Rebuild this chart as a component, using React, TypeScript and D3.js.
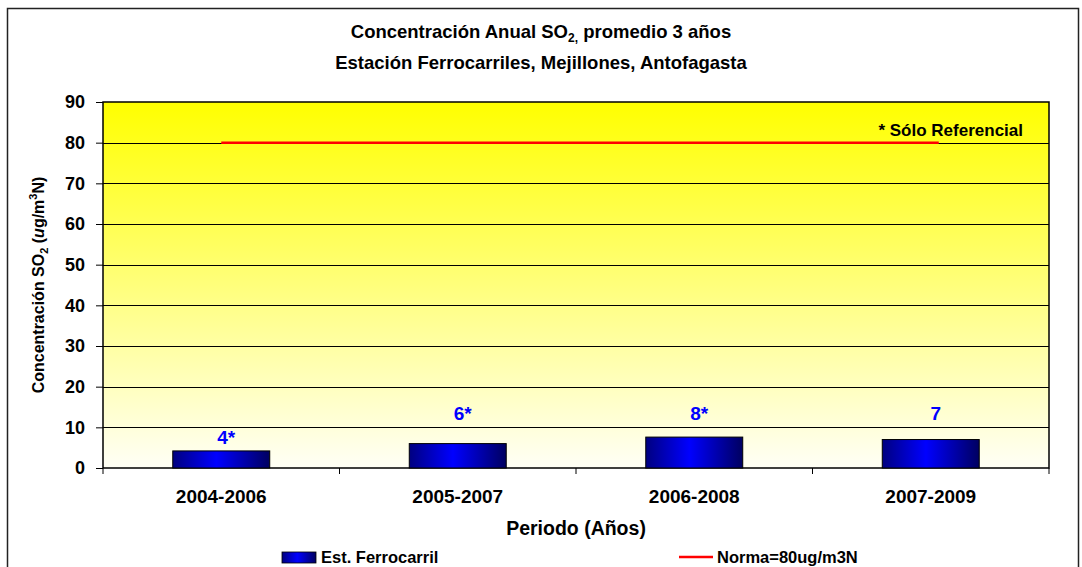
import React, { useEffect, useRef } from "react";
import * as d3 from "d3";

const periods = ["2004-2006", "2005-2007", "2006-2008", "2007-2009"];
const values = [4.2, 6.0, 7.6, 7.0];
const valueLabels = ["4*", "6*", "8*", "7"];
// where the label sits, in data units (as Excel placed them)
const labelLevels = [7.6, 13.5, 13.5, 13.5];
const norma = 80;
const yTicks = [0, 10, 20, 30, 40, 50, 60, 70, 80, 90];

const W = 1082;
const H = 567;
const margin = { top: 102, right: 33, bottom: 99, left: 103 };
const font = "'Liberation Sans', Arial, sans-serif";

const App = () => {
  const svgRef = useRef<SVGSVGElement>(null);

  useEffect(() => {
    const root = d3.select(svgRef.current);
    root.selectAll("*").remove();
    const width = W - margin.left - margin.right;
    const height = H - margin.top - margin.bottom;

    const defs = root.append("defs");
    const bg = defs
      .append("linearGradient")
      .attr("id", "bgGrad")
      .attr("x1", 0)
      .attr("y1", 0)
      .attr("x2", 0)
      .attr("y2", 1);
    bg.append("stop").attr("offset", "0%").attr("stop-color", "#ffff00");
    bg.append("stop").attr("offset", "100%").attr("stop-color", "#fffff6");

    const barGrad = defs
      .append("linearGradient")
      .attr("id", "barGrad")
      .attr("x1", 0)
      .attr("y1", 0)
      .attr("x2", 1)
      .attr("y2", 0);
    barGrad.append("stop").attr("offset", "0%").attr("stop-color", "#000080");
    barGrad.append("stop").attr("offset", "45%").attr("stop-color", "#0000ff");
    barGrad.append("stop").attr("offset", "100%").attr("stop-color", "#000060");

    // outer frame
    root
      .append("rect")
      .attr("x", 7.5)
      .attr("y", 8.5)
      .attr("width", 1071)
      .attr("height", 580)
      .attr("fill", "#fff")
      .attr("stroke", "#222")
      .attr("stroke-width", 1.5);

    const svg = root
      .append("g")
      .attr("transform", `translate(${margin.left},${margin.top})`);

    const x = d3.scaleBand().domain(periods).range([0, width]).paddingInner(0.59).paddingOuter(0.295);
    const xc = d3.scaleBand().domain(periods).range([0, width]);
    const y = d3.scaleLinear().domain([0, 90]).range([height, 0]);

    svg
      .append("rect")
      .attr("width", width)
      .attr("height", height)
      .attr("fill", "url(#bgGrad)");

    // gridlines
    svg
      .selectAll(".grid")
      .data(yTicks.filter((d) => d > 0 && d < 90))
      .enter()
      .append("line")
      .attr("x1", 0)
      .attr("x2", width)
      .attr("y1", (d) => Math.round(y(d)) + 0.5)
      .attr("y2", (d) => Math.round(y(d)) + 0.5)
      .attr("stroke", "#000")
      .attr("stroke-width", 1);

    svg
      .append("rect")
      .attr("width", width)
      .attr("height", height)
      .attr("fill", "none")
      .attr("stroke", "#000")
      .attr("stroke-width", 1.5);

    // norma line
    svg
      .append("line")
      .attr("x1", xc(periods[0])! + xc.bandwidth() / 2)
      .attr("x2", xc(periods[periods.length - 1])! + xc.bandwidth() / 2 + 8)
      .attr("y1", y(norma))
      .attr("y2", y(norma))
      .attr("stroke", "#ff0000")
      .attr("stroke-width", 2.5);

    svg
      .append("text")
      .attr("x", width - 26)
      .attr("y", y(norma) - 7)
      .attr("text-anchor", "end")
      .attr("font-family", font)
      .attr("font-weight", "bold")
      .attr("font-size", 17)
      .text("* Sólo Referencial");

    // bars
    svg
      .selectAll(".bar")
      .data(values)
      .enter()
      .append("rect")
      .attr("x", (d, i) => x(periods[i])!)
      .attr("y", (d) => y(d))
      .attr("width", x.bandwidth())
      .attr("height", (d) => y(0) - y(d))
      .attr("fill", "url(#barGrad)")
      .attr("stroke", "#000")
      .attr("stroke-width", 1);

    svg
      .selectAll(".lbl")
      .data(valueLabels)
      .enter()
      .append("text")
      .attr("x", (d, i) => x(periods[i])! + x.bandwidth() / 2 + 5)
      .attr("y", (d, i) => y(labelLevels[i]) + 7)
      .attr("text-anchor", "middle")
      .attr("font-family", font)
      .attr("font-weight", "bold")
      .attr("font-size", 19)
      .attr("fill", "#0000ff")
      .text((d) => d);

    // y axis
    const yAxis = svg
      .append("g")
      .call(d3.axisLeft(y).tickValues(yTicks).tickSize(7).tickPadding(11));
    yAxis.select(".domain").remove();
    yAxis.selectAll("line").attr("stroke", "#000");
    yAxis
      .selectAll("text")
      .attr("font-family", font)
      .attr("font-weight", "bold")
      .attr("font-size", 18)
      .attr("fill", "#000");

    // x axis
    const xAxis = svg
      .append("g")
      .attr("transform", `translate(0,${height})`)
      .call(d3.axisBottom(xc).tickSize(0).tickPadding(22));
    xAxis.select(".domain").remove();
    xAxis
      .selectAll("text")
      .attr("font-family", font)
      .attr("font-weight", "bold")
      .attr("font-size", 19)
      .attr("fill", "#000");
    svg
      .selectAll(".xtick")
      .data(d3.range(periods.length + 1))
      .enter()
      .append("line")
      .attr("x1", (i) => i * xc.step())
      .attr("x2", (i) => i * xc.step())
      .attr("y1", height)
      .attr("y2", height + 6)
      .attr("stroke", "#000");

    // axis titles
    svg
      .append("text")
      .attr("x", width / 2)
      .attr("y", height + 67)
      .attr("text-anchor", "middle")
      .attr("font-family", font)
      .attr("font-weight", "bold")
      .attr("font-size", 19.5)
      .text("Periodo (Años)");

    const yt = svg
      .append("text")
      .attr("transform", `translate(-59,${height / 2}) rotate(-90)`)
      .attr("text-anchor", "middle")
      .attr("font-family", font)
      .attr("font-weight", "bold")
      .attr("font-size", 16);
    yt.append("tspan").text("Concentración SO");
    yt.append("tspan").attr("font-size", 11).attr("dy", 4).text("2");
    yt.append("tspan").attr("dy", -4).text(" (");
    yt.append("tspan").attr("font-style", "italic").text("u");
    yt.append("tspan").text("g/m");
    yt.append("tspan").attr("font-size", 11).attr("dy", -7).text("3");
    yt.append("tspan").attr("dy", 7).text("N)");

    // title
    const t1 = root
      .append("text")
      .attr("x", W / 2)
      .attr("y", 38)
      .attr("text-anchor", "middle")
      .attr("font-family", font)
      .attr("font-weight", "bold")
      .attr("font-size", 18.5);
    t1.append("tspan").text("Concentración Anual SO");
    t1.append("tspan").attr("font-size", 12).attr("dy", 4).text("2,");
    t1.append("tspan").attr("dy", -4).text(" promedio 3 años");
    root
      .append("text")
      .attr("x", W / 2)
      .attr("y", 69)
      .attr("text-anchor", "middle")
      .attr("font-family", font)
      .attr("font-weight", "bold")
      .attr("font-size", 18.5)
      .text("Estación Ferrocarriles, Mejillones, Antofagasta");

    // legend
    const lg = root.append("g").attr("transform", `translate(0,557)`);
    lg.append("rect")
      .attr("x", 282)
      .attr("y", -5)
      .attr("width", 34)
      .attr("height", 11)
      .attr("fill", "url(#barGrad)")
      .attr("stroke", "#000")
      .attr("stroke-width", 0.8);
    lg.append("text")
      .attr("x", 321)
      .attr("y", 6)
      .attr("font-family", font)
      .attr("font-weight", "bold")
      .attr("font-size", 16.5)
      .text("Est. Ferrocarril");
    lg.append("line")
      .attr("x1", 679)
      .attr("x2", 713)
      .attr("y1", 0)
      .attr("y2", 0)
      .attr("stroke", "#ff0000")
      .attr("stroke-width", 2.5);
    lg.append("text")
      .attr("x", 717)
      .attr("y", 6)
      .attr("font-family", font)
      .attr("font-weight", "bold")
      .attr("font-size", 16.5)
      .text("Norma=80ug/m3N");
  }, []);

  return (
    <svg
      ref={svgRef}
      width={W}
      height={H}
      style={{ position: "fixed", top: 0, left: 0, background: "#fff" }}
    ></svg>
  );
};

export default App;
